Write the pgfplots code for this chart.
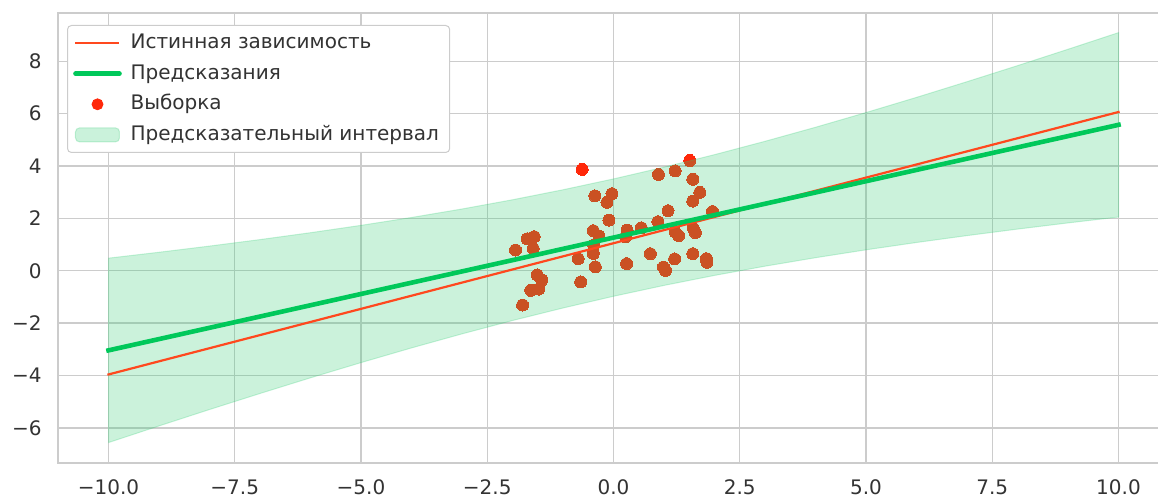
\documentclass[border=0pt]{standalone}
\usepackage{fontspec}
\setmainfont{DejaVu Sans}
\usepackage{pgfplots}
\pgfplotsset{compat=1.18}
\definecolor{trueline}{RGB}{255,72,30}
\definecolor{predline}{RGB}{0,200,90}
\definecolor{ptred}{RGB}{255,40,10}
\definecolor{bandgreen}{RGB}{46,204,113}
\definecolor{gridgray}{RGB}{204,204,204}
\definecolor{txtgray}{RGB}{51,51,51}
\pgfplotsset{lineleg/.style={legend image code/.code={\draw[##1] (0pt,0pt) -- (22pt,0pt);}}}
\begin{document}
\begin{tikzpicture}
\begin{axis}[name=ax, scale only axis, width=555.5pt, height=225pt,
  clip marker paths=true,
  xmin=-11, xmax=11, ymin=-7.34, ymax=9.84,
  xtick={-10,-7.5,-5,-2.5,0,2.5,5,7.5,10},
  xticklabels={−10.0,−7.5,−5.0,−2.5,0.0,2.5,5.0,7.5,10.0},
  ytick={-6,-4,-2,0,2,4,6,8},
  yticklabels={−6,−4,−2,0,2,4,6,8},
  major tick length=0pt,
  grid=major, grid style={gridgray, line width=0.65pt},
  axis line style={gridgray, line width=0.85pt},
  ticklabel style={font=\fontsize{10}{12}\selectfont, text=txtgray},
  xticklabel style={yshift=-5pt}, yticklabel style={xshift=-4.7pt},
  legend cell align=left,
  legend style={at={(0,1)}, anchor=north west, xshift=4.5pt, yshift=-6pt,
    draw=gridgray, rounded corners=2pt, fill=white, line width=0.5pt,
    font=\fontsize{10}{12}\selectfont, text=txtgray,
    inner xsep=2.85pt, inner ysep=1.4pt, row sep=0.5pt, column sep=1.9pt,
    nodes={text height=7.6pt, text depth=2.2pt, inner sep=2.5pt}},
]
\addlegendimage{trueline, line width=1.1pt, lineleg}
\addlegendentry{Истинная зависимость}
\addlegendimage{predline, line width=2.3pt, line cap=round, lineleg}
\addlegendentry{Предсказания}
\addlegendimage{ptred, legend image code/.code={\path (0pt,0pt) (22pt,0pt); \fill[ptred] (11pt,0pt) circle (2.7pt);}}
\addlegendentry{Выборка}
\addlegendimage{bandgreen, legend image code/.code={\draw[fill=bandgreen, fill opacity=0.25, draw=bandgreen, draw opacity=0.25, line width=0.5pt] (0pt,-3.5pt) rectangle (22pt,3.5pt);}}
\addlegendentry{Предсказательный интервал}

\addplot[only marks, mark=*, mark size=3pt, color=ptred, mark options={line width=0pt}, forget plot] coordinates {
(-1.94,0.79) (-1.71,1.22) (-1.57,1.30) (-1.59,0.85) (-1.51,-0.16) (-1.42,-0.36)
(-1.64,-0.75) (-1.48,-0.70) (-1.80,-1.31)
(-0.62,3.87) (-0.37,2.86) (-0.03,2.94) (-0.13,2.61) (-0.09,1.93) (-0.40,1.53)
(-0.29,1.33) (-0.39,0.98) (-0.40,0.66) (-0.70,0.46) (-0.36,0.15) (-0.65,-0.43)
(0.89,3.68) (1.22,3.81) (1.51,4.21) (1.57,3.49) (1.71,2.99) (1.57,2.66)
(1.08,2.29) (1.96,2.26) (0.27,1.55) (0.24,1.30) (0.55,1.64) (0.88,1.87)
(1.22,1.48) (1.29,1.34) (1.58,1.62) (1.62,1.46) (0.26,0.27) (0.73,0.65)
(0.99,0.14) (1.03,0.01) (1.21,0.45) (1.57,0.65) (1.84,0.46) (1.85,0.32)
};
\addplot[fill=bandgreen, fill opacity=0.25, draw=bandgreen, draw opacity=0.25, line width=0.5pt, forget plot] coordinates {
(-10,0.480) (-9,0.705) (-8,0.941) (-7,1.189) (-6,1.452) (-5,1.732) (-4,2.033)
(-3,2.357) (-2,2.709) (-1,3.091) (0,3.505) (1,3.953) (2,4.431) (3,4.941)
(4,5.477) (5,6.038) (6,6.618) (7,7.217) (8,7.829) (9,8.455) (10,9.090)
(10,2.050) (9,1.825) (8,1.589) (7,1.341) (6,1.078) (5,0.798) (4,0.497)
(3,0.173) (2,-0.179) (1,-0.561) (0,-0.975) (-1,-1.423) (-2,-1.901) (-3,-2.411)
(-4,-2.947) (-5,-3.508) (-6,-4.088) (-7,-4.687) (-8,-5.299) (-9,-5.925) (-10,-6.560)
} -- cycle;
\addplot[trueline, line width=1.1pt, line cap=rect, forget plot] coordinates {(-10,-3.96) (10,6.06)};
\addplot[predline, line width=2.3pt, line cap=rect, forget plot] coordinates {(-10,-3.04) (10,5.57)};
\end{axis}
\pgfresetboundingbox
\path[use as bounding box] ([xshift=-29pt,yshift=-17pt]ax.south west) rectangle ([xshift=-5.5pt,yshift=6.5pt]ax.north east);
\end{tikzpicture}
\end{document}
